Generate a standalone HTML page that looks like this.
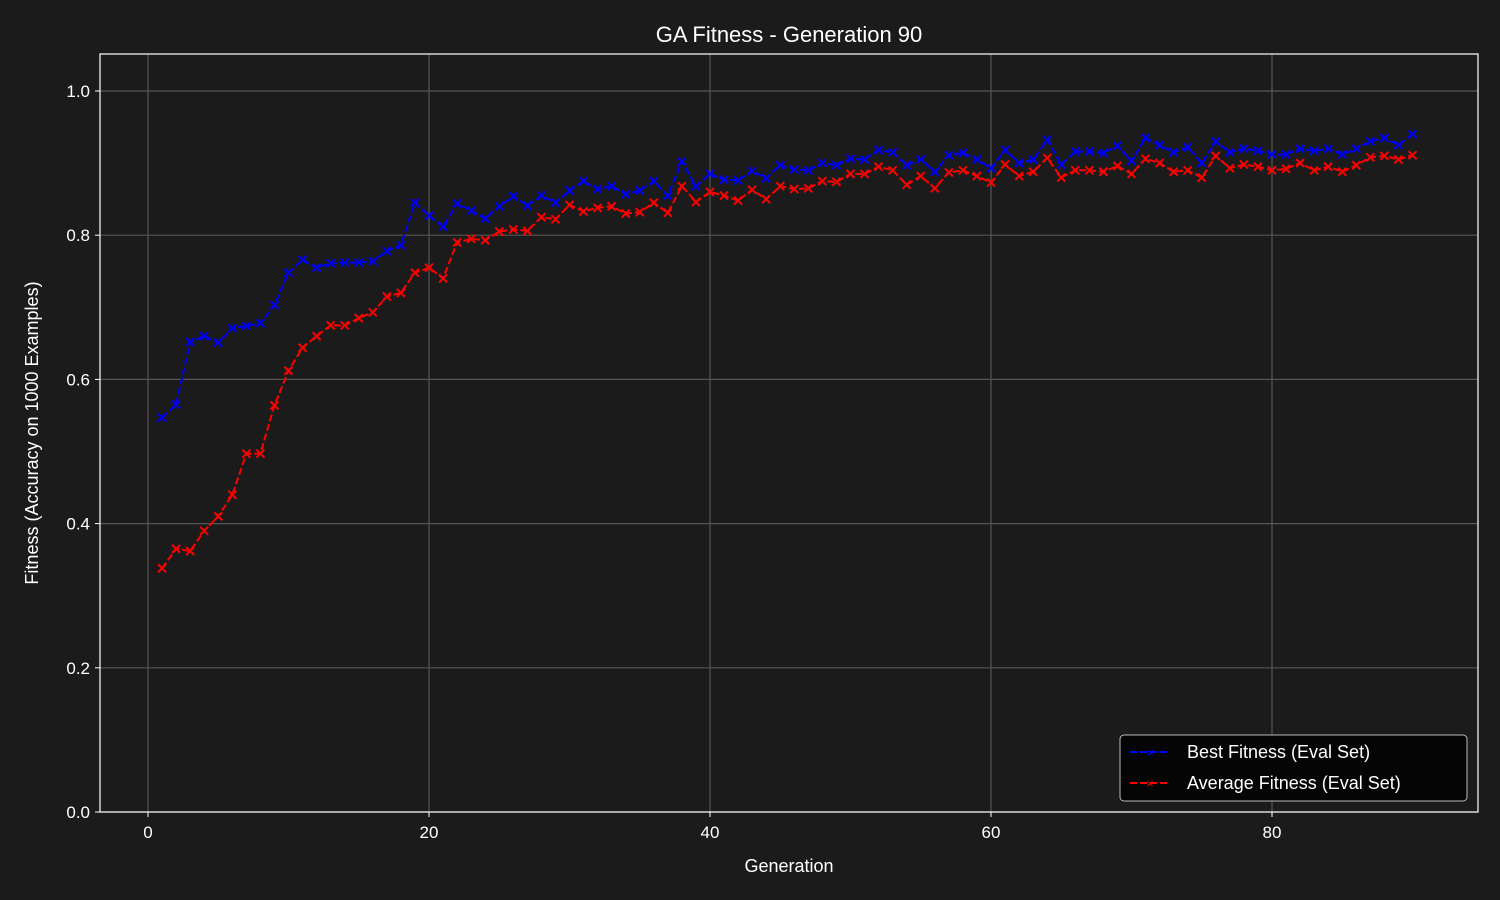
<!DOCTYPE html>
<html><head><meta charset="utf-8"><style>
html,body{margin:0;padding:0;background:#1b1b1b;}
svg{display:block;font-family:"Liberation Sans","DejaVu Sans",sans-serif;}
</style></head><body>
<svg id="chart" width="1500" height="900" xmlns="http://www.w3.org/2000/svg">
<rect width="1500" height="900" fill="#1b1b1b"/>
<text x="789" y="42" fill="#fff" font-size="22" text-anchor="middle">GA Fitness - Generation 90</text>
<g id="grid"></g><g id="ticks"></g><g id="series"></g>
<rect x="100" y="54" width="1378" height="758" fill="none" stroke="#fff" stroke-width="1.2"/>
<text x="789" y="872" fill="#fff" font-size="18" text-anchor="middle">Generation</text>
<text transform="translate(38,433) rotate(-90)" fill="#fff" font-size="18" text-anchor="middle">Fitness (Accuracy on 1000 Examples)</text>
<g>
<rect x="1120" y="735" width="347" height="66" rx="4" fill="#050505" stroke="#bbb" stroke-width="1"/>
<line x1="1130" y1="752" x2="1170" y2="752" stroke="#0000ff" stroke-width="2" stroke-dasharray="7,3"/>
<text x="1150" y="757" fill="#0000ff" font-size="13" text-anchor="middle">×</text>
<text x="1187" y="758" fill="#fff" font-size="18">Best Fitness (Eval Set)</text>
<line x1="1130" y1="783" x2="1170" y2="783" stroke="#ff0000" stroke-width="2" stroke-dasharray="7,3"/>
<text x="1150" y="788" fill="#ff0000" font-size="13" text-anchor="middle">×</text>
<text x="1187" y="789" fill="#fff" font-size="18">Average Fitness (Eval Set)</text>
</g>
</svg>
<script>
const xTicks=[0,20,40,60,80];
const yTicks=[0.0,0.2,0.4,0.6,0.8,1.0];
const yTickLabels=["0.0","0.2","0.4","0.6","0.8","1.0"];
const bestFitness=[.547,.565,.652,.660,.651,.671,.674,.678,.703,.748,.766,.755,.761,.762,.762,.764,.778,.786,.845,.827,.812,.844,.834,.823,.840,.854,.841,.855,.845,.862,.875,.864,.868,.857,.862,.875,.855,.902,.868,.885,.877,.876,.889,.879,.897,.891,.890,.900,.897,.906,.905,.918,.915,.897,.905,.888,.911,.914,.905,.893,.918,.900,.905,.932,.898,.916,.916,.914,.924,.903,.935,.925,.915,.922,.900,.930,.915,.920,.917,.912,.912,.920,.917,.920,.912,.920,.930,.935,.925,.940];
const avgFitness=[.338,.365,.362,.390,.410,.440,.497,.497,.564,.612,.644,.660,.675,.675,.685,.693,.715,.720,.748,.755,.740,.790,.795,.793,.805,.808,.806,.825,.822,.842,.833,.838,.840,.830,.832,.845,.831,.868,.846,.860,.855,.848,.863,.850,.868,.864,.865,.875,.874,.885,.885,.895,.890,.870,.882,.865,.887,.890,.882,.873,.898,.882,.888,.907,.880,.890,.890,.888,.896,.885,.906,.900,.888,.890,.880,.910,.893,.898,.895,.890,.892,.900,.890,.895,.888,.897,.908,.910,.905,.911];
const NS="http://www.w3.org/2000/svg";
const X=v=>148+v*14.05;
const Y=v=>812-v*721;
function mk(tag,attrs,parent,txt){const e=document.createElementNS(NS,tag);for(const k in attrs)e.setAttribute(k,attrs[k]);if(txt!==undefined)e.textContent=txt;parent.appendChild(e);return e;}
const grid=document.getElementById('grid'),ticks=document.getElementById('ticks'),series=document.getElementById('series');
xTicks.forEach(t=>{
  const g=mk('line',{x1:X(t),x2:X(t),y1:54,y2:812,stroke:'#555','stroke-width':1.2},grid);
  
  
  mk('line',{x1:X(t),x2:X(t),y1:812,y2:817,stroke:'#fff'},ticks);
  const l=mk('text',{x:X(t),y:838,fill:'#fff','font-size':17,'text-anchor':'middle'},ticks,String(t));
  
  
});
yTicks.forEach((t,i)=>{
  const g=mk('line',{x1:100,x2:1478,y1:Y(t),y2:Y(t),stroke:'#555','stroke-width':1.2},grid);
  
  
  mk('line',{x1:95,x2:100,y1:Y(t),y2:Y(t),stroke:'#fff'},ticks);
  const l=mk('text',{x:90,y:Y(t)+6,fill:'#fff','font-size':17,'text-anchor':'end'},ticks,yTickLabels[i]);
  
  
});
function draw(data,color,name){
  const pts=data.map((v,i)=>X(i+1)+','+Y(v)).join(' ');
  const pl=mk('polyline',{points:pts,fill:'none',stroke:color,'stroke-width':2,'stroke-dasharray':'7,3'},series);
  
  
  data.forEach((v,i)=>{
    const x=X(i+1),y=Y(v),s=4;
    const p=mk('path',{d:`M${x-s},${y-s}L${x+s},${y+s}M${x-s},${y+s}L${x+s},${y-s}`,stroke:color,'stroke-width':2},series);
    
    
  });
}
draw(bestFitness,'#0000ff','best-fitness');
draw(avgFitness,'#ff0000','average-fitness');
</script>
</body></html>
